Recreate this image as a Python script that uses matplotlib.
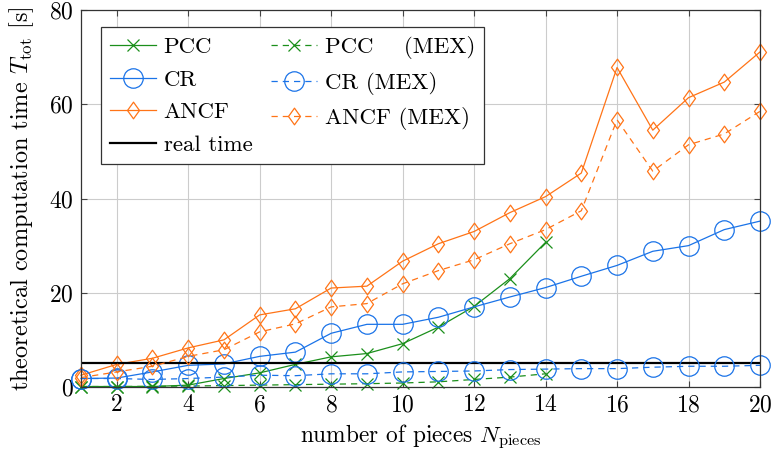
import matplotlib
matplotlib.use("Agg")
import matplotlib.pyplot as plt
from matplotlib.path import Path

plt.rcParams['font.family'] = ['cmr10', 'DejaVu Serif']
plt.rcParams['mathtext.fontset'] = 'cm'
plt.rcParams['axes.formatter.use_mathtext'] = True

# data
n_pieces = list(range(1, 21))
pcc = [0.1, 0.1, 0.1, 0.4, 1.8, 3.0, 4.8, 6.4, 7.1, 9.2, 12.7, 17.1, 23.0, 30.7]
pcc_mex = [0.1, 0.1, 0.15, 0.2, 0.3, 0.4, 0.5, 0.6, 0.7, 0.85, 1.1, 1.6, 2.1, 2.8]
cr = [1.8, 1.9, 3.2, 4.6, 4.9, 6.5, 7.4, 11.4, 13.3, 13.3, 14.8, 17.0, 19.1, 21.1,
      23.5, 25.8, 28.8, 30.0, 33.4, 35.2]
cr_mex = [1.8, 1.8, 1.6, 1.8, 2.1, 2.5, 2.4, 2.8, 2.8, 3.2, 3.3, 3.4, 3.7, 3.8,
          3.9, 3.9, 4.2, 4.4, 4.4, 4.6]
ancf = [2.5, 4.8, 6.1, 8.3, 10.0, 15.3, 16.6, 21.0, 21.4, 26.7, 30.4, 33.0, 37.0, 40.4,
        45.4, 67.8, 54.5, 61.4, 64.7, 71.1]
ancf_mex = [2.0, 3.2, 4.4, 6.5, 7.9, 11.7, 13.4, 17.0, 17.7, 21.9, 24.7, 27.0, 30.4, 33.4,
            37.4, 56.7, 45.8, 51.4, 53.7, 58.5]
real_time = 5.0

green = '#1b8f1b'
blue = '#1a73e8'
orange = '#ff7417'

diamond = Path([(0, 1), (0.72, 0), (0, -1), (-0.72, 0), (0, 1)],
               [Path.MOVETO, Path.LINETO, Path.LINETO, Path.LINETO, Path.CLOSEPOLY])

fig = plt.figure(figsize=(7.74, 4.54), dpi=100)
ax = fig.add_axes([81 / 774, 67 / 454, 679 / 774, 377 / 454])

kw = dict(lw=0.9, clip_on=False, mfc='none', mew=0.9)
l1, = ax.plot(n_pieces[:len(pcc)], pcc, '-', color=green, marker='x', ms=8, label='PCC', **kw)
l2, = ax.plot(n_pieces, cr, '-', color=blue, marker='o', ms=14, label='CR', **kw)
l3, = ax.plot(n_pieces, ancf, '-', color=orange, marker=diamond, ms=12, label='ANCF', **kw)
l4 = ax.axhline(real_time, color='black', lw=1.6, label='real time')
l5, = ax.plot(n_pieces[:len(pcc_mex)], pcc_mex, '--', color=green, marker='x', ms=8,
              label='PCC    (MEX)', **kw)
l6, = ax.plot(n_pieces, cr_mex, '--', color=blue, marker='o', ms=14, label='CR (MEX)', **kw)
l7, = ax.plot(n_pieces, ancf_mex, '--', color=orange, marker=diamond, ms=12,
              label='ANCF (MEX)', **kw)
for l in (l5, l6, l7):
    l.set_dashes([5, 4])

ax.set_xlim(1, 20)
ax.set_ylim(0, 80)
ax.set_xticks(range(2, 21, 2))
ax.set_yticks(range(0, 81, 20))
ax.grid(True, color='#cccccc', lw=0.8)
ax.set_axisbelow(True)
ax.tick_params(direction='in', top=True, right=True, length=4, labelsize=17, pad=5,
               color='#444444')
for s in ax.spines.values():
    s.set_color('#333333')
    s.set_linewidth(0.9)

ax.set_xlabel(r'number of pieces $N_{\mathrm{pieces}}$', fontsize=16.8, labelpad=5)
ax.set_ylabel(r'theoretical computation time $T_{\mathrm{tot}}$ [s]', fontsize=17.5,
              labelpad=10)

leg = ax.legend(handles=[l1, l2, l3, l4, l5, l6, l7], ncol=2, loc='upper left',
                bbox_to_anchor=(0.029, 0.955), fontsize=16.5, fancybox=False,
                edgecolor='#333333', framealpha=1, borderaxespad=0,
                handlelength=2.0, handletextpad=0.35, columnspacing=0.8,
                labelspacing=0.55)
leg.get_frame().set_linewidth(0.9)

fig.savefig('out.png', dpi=100)
